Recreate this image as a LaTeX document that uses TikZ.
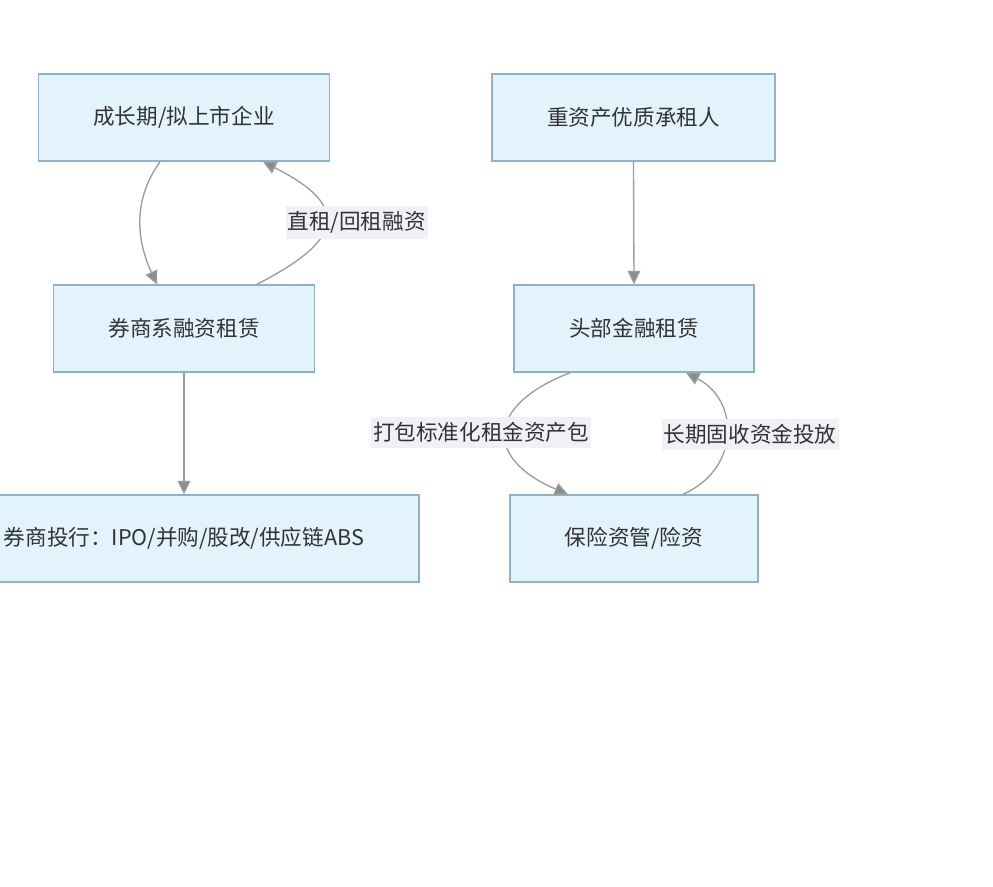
\documentclass[tikz,border=0pt]{standalone}
\usepackage{fontspec}
\setmainfont{Noto Sans CJK SC}
\usetikzlibrary{arrows.meta,calc}
\definecolor{boxfill}{HTML}{E3F3FB}
\definecolor{boxline}{HTML}{8FB2C5}
\definecolor{lblfill}{HTML}{F3EFF6}
\definecolor{arrowgray}{HTML}{9C9C9C}
\definecolor{txtgray}{HTML}{333333}

\begin{document}
\begin{tikzpicture}[x=0.75pt,y=-0.75pt,
  font=\fontsize{16.2}{20}\selectfont, text=txtgray,
  box/.style={draw=boxline,fill=boxfill,line width=1.1pt,minimum height=65.25pt,inner xsep=41.25pt},
  lbl/.style={fill=lblfill,inner xsep=1.5pt,inner ysep=4pt},
  flow/.style={draw=arrowgray,line width=1pt,-{Triangle[length=10pt,width=9.5pt,fill=arrowgray!90!black]}}]

% 背景
\fill[white] (0,0) rectangle (993,886);
\useasboundingbox (0,0) rectangle (993,886);

% 左列
\node[box] (grow) at (184,117.5) {成长期/拟上市企业};
\node[box] (brokerlease) at (184,328.5) {券商系融资租赁};
\node[box] (ibank) at (184,538.5) {券商投行：IPO/并购/股改/供应链ABS};

% 右列
\node[box] (lessee) at (633.5,117.5) {重资产优质承租人};
\node[box] (toplease) at (634,328.5) {头部金融租赁};
\node[box] (insure) at (634,538.5) {保险资管/险资};

% 左列の矢印
\draw[flow] ($(grow.south)+(-24,0)$) .. controls +(-28,39) and +(-20,-43) .. ($(brokerlease.north)+(-27,0)$);
\draw[flow] ($(brokerlease.north)+(73,0)$) .. controls +(88,-45) and +(87,44) .. ($(grow.south)+(79,0)$)
  node[lbl,pos=0.5,xshift=23.25pt] {直租/回租融资};
\draw[flow] (brokerlease.south) -- (ibank.north);

% 右列の矢印
\draw[flow] (lessee.south) -- (toplease.north);
\draw[flow] ($(toplease.south)+(-64,0)$) .. controls +(-85,33) and +(-83,-35) .. ($(insure.north)+(-66,0)$)
  node[lbl,pos=0.5,xshift=-18.75pt] {打包标准化租金资产包};
\draw[flow] ($(insure.north)+(49,0)$) .. controls +(57,-25) and +(54,28) .. ($(toplease.south)+(52,0)$)
  node[lbl,pos=0.5,xshift=18pt] {长期固收资金投放};

\end{tikzpicture}
\end{document}
